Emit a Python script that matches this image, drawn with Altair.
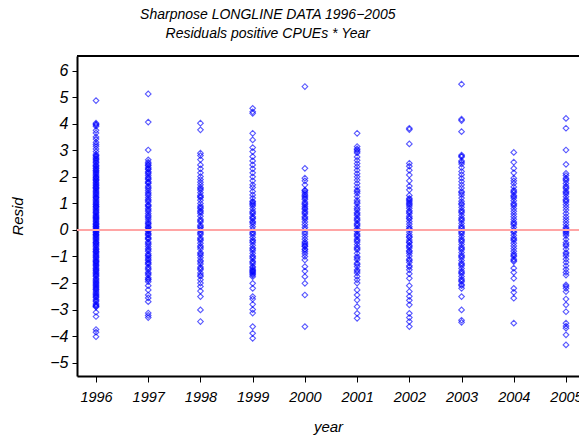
import altair as alt
import pandas as pd

years = [1996, 1997, 1998, 1999, 2000, 2001, 2002, 2003, 2004, 2005]

r1996 = [4.87, 4.02, 3.98, 3.95, 3.9, 3.75, 3.65, 3.5, 3.42, 3.3, 3.22, 3.15, 3.05, 2.95, 2.85, 2.8, 2.72, 2.65, 2.6, 2.52,
         2.45, 2.38, 2.3, 2.25, 2.18, 2.1, 2.05, 2.0, 1.95, 1.9, 1.85, 1.8, 1.72, 1.65, 1.6, 1.55, 1.5, 1.42, 1.38, 1.3,
         1.25, 1.2, 1.15, 1.1, 1.02, 0.95, 0.9, 0.85, 0.8, 0.72, 0.65, 0.6, 0.55, 0.48, 0.42, 0.38, 0.3, 0.25, 0.2, 0.15,
         0.1, 0.05, 0.0, -0.05, -0.1, -0.15, -0.2, -0.28, -0.32, -0.4, -0.45, -0.5, -0.55, -0.62, -0.68, -0.75, -0.8,
         -0.85, -0.9, -0.98, -1.05, -1.1, -1.15, -1.2, -1.28, -1.35, -1.4, -1.48, -1.55, -1.6, -1.68, -1.75, -1.82, -1.9,
         -1.95, -2.02, -2.1, -2.18, -2.25, -2.3, -2.4, -2.48, -2.55, -2.62, -2.7, -2.78, -2.85, -2.9, -3.1, -3.26, -3.75,
         -3.85, -4.02,
         2.78, 2.68, 2.55, 2.42, 2.33, 2.22, 2.14, 1.98, 1.88, 1.76, 1.68, 1.58, 1.46, 1.34, 1.22, 1.06, 0.98, 0.88,
         0.76, 0.68, 0.52, 0.45, 0.34, 0.22, 0.12, 0.02, -0.08, -0.18, -0.24, -0.36, -0.48, -0.58, -0.72, -0.82, -0.94,
         -1.02, -1.18, -1.24, -1.32, -1.45, -1.52, -1.64, -1.72, -1.86, -1.98, -2.06, -2.14, -2.22, -2.35, -2.44,
         -2.52, -2.66, -2.82, -2.88]
r1997 = [5.12, 4.06, 3.01, 2.64, 2.55, 2.5, 2.42, 2.35, 2.28, 2.2, 2.12, 2.05, 1.98, 1.9, 1.82, 1.75, 1.65, 1.55, 1.48,
         1.4, 1.3, 1.22, 1.15, 1.05, 0.95, 0.88, 0.8, 0.7, 0.62, 0.55, 0.45, 0.38, 0.3, 0.22, 0.15, 0.08, 0.02, -0.05,
         -0.12, -0.2, -0.28, -0.35, -0.45, -0.55, -0.62, -0.7, -0.8, -0.9, -0.98, -1.05, -1.15, -1.22, -1.3, -1.4, -1.5,
         -1.6, -1.7, -1.8, -1.88, -1.95, -2.1, -2.26, -2.45, -2.56, -2.7, -3.13, -3.22, -3.3,
         2.45, 2.3, 2.16, 1.94, 1.78, 1.6, 1.35, 1.1, 0.92, 0.75, 0.5, 0.25, 0.1, -0.02, -0.16, -0.32, -0.5, -0.75,
         -0.95, -1.1, -1.25, -1.45, -1.65, -1.85]
r1998 = [4.02, 3.77, 2.89, 2.8, 2.65, 2.45, 2.3, 2.15, 2.01, 1.9, 1.8, 1.7, 1.6, 1.5, 1.4, 1.3, 1.22, 1.12, 1.0, 0.9,
         0.8, 0.72, 0.62, 0.52, 0.4, 0.3, 0.18, 0.08, 0.0, -0.08, -0.18, -0.3, -0.4, -0.5, -0.6, -0.72, -0.85, -0.95,
         -1.05, -1.15, -1.28, -1.4, -1.5, -1.62, -1.75, -1.88, -2.0, -2.13, -2.3, -2.51, -3.01, -3.45,
         1.55, 1.25, 0.85, 0.68, 0.35, 0.12, -0.12, -0.35, -0.65, -0.9, -1.2, -1.45, -1.7]
r1999 = [4.58, 4.45, 4.39, 3.64, 3.39, 3.1, 2.95, 2.76, 2.6, 2.45, 2.3, 2.15, 2.0, 1.85, 1.7, 1.6, 1.45, 1.32, 1.2, 1.08,
         1.0, 0.9, 0.8, 0.7, 0.6, 0.5, 0.42, 0.32, 0.22, 0.12, 0.02, -0.08, -0.18, -0.28, -0.38, -0.48, -0.58, -0.68,
         -0.78, -0.88, -0.98, -1.08, -1.18, -1.28, -1.38, -1.48, -1.55, -1.62, -1.7, -1.76, -2.01, -2.2, -2.51, -2.6,
         -2.8, -3.0, -3.13, -3.64, -3.89, -4.08,
         1.05, 0.95, 0.65, 0.45, 0.28, -0.12, -0.42, -0.72, -1.02, -1.22, -1.42, -1.52, -1.58, -1.66]
r2000 = [5.4, 2.32, 1.95, 1.85, 1.7, 1.5, 1.42, 1.35, 1.25, 1.15, 1.05, 0.95, 0.88, 0.78, 0.7, 0.6, 0.5, 0.4, 0.3, 0.2,
         0.1, 0.02, -0.08, -0.15, -0.25, -0.35, -0.45, -0.55, -0.62, -0.72, -0.82, -0.9, -1.0, -1.13, -1.38, -1.55,
         -1.76, -2.01, -2.45, -3.64,
         1.48, 1.3, 1.2, 1.0, 0.82, 0.65, 0.45, -0.5, -0.6, -0.75]
r2001 = [3.64, 3.14, 3.01, 2.9, 2.75, 2.62, 2.5, 2.38, 2.25, 2.12, 2.0, 1.88, 1.75, 1.62, 1.5, 1.38, 1.25, 1.12, 1.0,
         0.88, 0.75, 0.65, 0.55, 0.45, 0.35, 0.25, 0.15, 0.05, -0.05, -0.15, -0.25, -0.35, -0.45, -0.55, -0.65, -0.75,
         -0.88, -1.0, -1.12, -1.25, -1.38, -1.5, -1.62, -1.75, -1.88, -2.0, -2.26, -2.45, -2.64, -2.89, -3.14, -3.33,
         3.05, 2.95, 1.45, 1.05, 0.8, 0.6, 0.4, 0.2, 0.0, -0.2, -0.4, -0.7, -1.05, -1.3, -1.55]
r2002 = [3.83, 3.78, 3.24, 2.51, 2.4, 2.25, 2.07, 1.85, 1.65, 1.51, 1.3, 1.19, 1.1, 1.0, 0.9, 0.82, 0.72, 0.62, 0.52,
         0.42, 0.32, 0.22, 0.12, 0.02, -0.08, -0.18, -0.28, -0.38, -0.48, -0.58, -0.68, -0.78, -0.88, -0.98, -1.1,
         -1.22, -1.35, -1.5, -1.65, -1.82, -2.1, -2.32, -2.5, -2.65, -2.82, -3.14, -3.3, -3.45, -3.64,
         1.15, 1.05, 0.95, 0.68, 0.45, 0.05, -0.25, -0.45, -0.62, -0.82, -1.15, -1.4]
r2003 = [5.49, 4.17, 4.12, 3.7, 2.82, 2.75, 2.6, 2.48, 2.35, 2.2, 2.08, 1.95, 1.82, 1.7, 1.58, 1.45, 1.32, 1.2, 1.08,
         0.95, 0.85, 0.75, 0.65, 0.55, 0.45, 0.35, 0.25, 0.15, 0.05, -0.05, -0.15, -0.25, -0.35, -0.45, -0.55, -0.65,
         -0.75, -0.85, -0.95, -1.05, -1.15, -1.25, -1.35, -1.45, -1.55, -1.65, -1.75, -1.85, -1.95, -2.05, -2.2, -2.51,
         -3.01, -3.4, -3.48,
         2.78, 2.55, 1.4, 1.0, 0.7, 0.4, 0.1, -0.1, -0.4, -0.7, -1.0, -1.3, -1.6, -1.9, -2.1]
r2004 = [2.92, 2.55, 2.32, 2.15, 1.95, 1.85, 1.75, 1.62, 1.5, 1.4, 1.3, 1.2, 1.1, 1.0, 0.9, 0.8, 0.7, 0.6, 0.5, 0.4,
         0.3, 0.2, 0.1, 0.0, -0.1, -0.2, -0.3, -0.4, -0.5, -0.6, -0.7, -0.8, -0.9, -1.0, -1.1, -1.19, -1.44, -1.6,
         -1.82, -2.2, -2.35, -2.57, -3.51,
         1.45, 1.25, 0.95, 0.25, -0.05, -0.35, -0.95, -1.15]
r2005 = [4.2, 3.83, 3.01, 2.47, 2.13, 2.05, 1.95, 1.85, 1.75, 1.65, 1.55, 1.45, 1.35, 1.25, 1.15, 1.05, 0.95, 0.85,
         0.75, 0.62, 0.5, 0.4, 0.3, 0.2, 0.1, 0.0, -0.1, -0.22, -0.35, -0.48, -0.6, -0.72, -0.85, -0.98, -1.1, -1.22,
         -1.35, -1.48, -1.6, -1.7, -2.07, -2.2, -2.32, -2.6, -2.82, -3.08, -3.51, -3.62, -3.7, -3.95, -4.33,
         1.9, 1.6, 1.4, 1.1, 0.05, -0.05, -0.15, -0.55, -0.9, -2.12]

resids = [r1996, r1997, r1998, r1999, r2000, r2001, r2002, r2003, r2004, r2005]
y_ticks = [-5, -4, -3, -2, -1, 0, 1, 2, 3, 4, 5, 6]

rows = []
for yr, vals in zip(years, resids):
    for v in vals:
        rows.append({"year": yr, "Resid": v})
df = pd.DataFrame(rows)

FONT = "Liberation Sans"
W, H = 502, 320

xscale = alt.Scale(domain=[1995.636, 2005.249], nice=False, zero=False)
yscale = alt.Scale(domain=[-5.5, 6.55], nice=False, zero=False)

x_axis = alt.Axis(values=years, format="d", grid=False, domainColor="black", domainWidth=2,
                  tickColor="black", tickSize=6, labelFont=FONT, labelFontSize=14.5,
                  labelFontStyle="italic", labelColor="black", labelPadding=8,
                  labelOverlap=False,
                  titleFont=FONT, titleFontSize=15, titleFontStyle="italic",
                  titleFontWeight="normal", titleColor="black", titlePadding=16)
y_axis = alt.Axis(values=y_ticks, format="d", grid=False, domainColor="black", domainWidth=2,
                  tickColor="black", tickSize=5, labelFont=FONT, labelFontSize=16,
                  labelFontStyle="italic", labelColor="black", labelPadding=4,
                  labelOverlap=False, tickCount=12,
                  titleFont=FONT, titleFontSize=15, titleFontStyle="italic",
                  titleFontWeight="normal", titleColor="black", titlePadding=24)

points = alt.Chart(df).mark_point(
    shape="diamond", filled=False, color="#0000ff", size=32, strokeWidth=1.1, opacity=0.65, clip=True
).encode(
    x=alt.X("year:Q", scale=xscale, title="year", axis=x_axis),
    y=alt.Y("Resid:Q", scale=yscale, title="Resid", axis=y_axis),
)

zero = alt.Chart(pd.DataFrame({"Resid": [0]})).mark_rule(color="#ffa5a5", strokeWidth=2).encode(
    y=alt.Y("Resid:Q", scale=yscale, title="Resid", axis=y_axis)
)

top = alt.Chart(pd.DataFrame({"a": [0]})).mark_rule(color="black", strokeWidth=2).encode(
    x=alt.value(0), x2=alt.value(W + 20), y=alt.value(0)
)

chart = alt.layer(points, zero, top).properties(
    width=W, height=H,
    autosize=alt.AutoSizeParams(type="none"),
    padding={"left": 77, "top": 56, "right": 0, "bottom": 64},
    title=alt.Title(
        ["Sharpnose LONGLINE DATA 1996\u22122005", "Residuals positive CPUEs * Year"],
        font=FONT, fontSize=14, fontStyle="italic", fontWeight="normal", color="black",
        anchor="start", align="center", dx=257, lineHeight=19, offset=14,
    ),
).configure_view(stroke=None).configure(background="white")

chart.save("out.html", embed_options={"renderer": "svg", "actions": False})
